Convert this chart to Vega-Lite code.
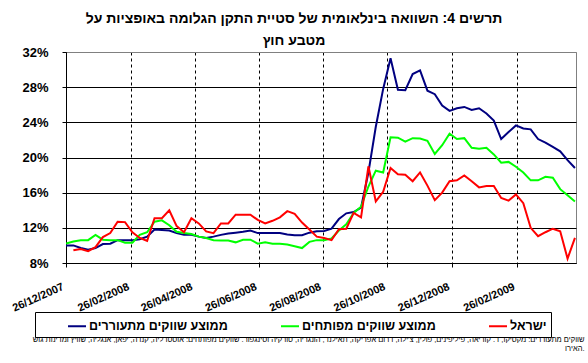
{
  "$schema": "https://vega.github.io/schema/vega-lite/v6.json",
  "width": 510,
  "height": 211,
  "autosize": {"type": "none"},
  "padding": {"left": 66, "top": 52, "right": 12, "bottom": 100},
  "background": "white",
  "title": {
    "text": ["תרשים 4: השוואה בינלאומית של סטיית התקן הגלומה באופציות על", "מטבע חוץ"],
    "font": "Liberation Sans",
    "fontSize": 14,
    "fontWeight": "bold",
    "color": "black",
    "anchor": "middle",
    "dx": -27,
    "dy": 6,
    "lineHeight": 22
  },
  "data": {
    "values": [
      {"date": "2007-12-26", "em": 10.0, "dev": 10.2, "isr": null},
      {"date": "2008-01-02", "em": 10.0, "dev": 10.45, "isr": 9.45},
      {"date": "2008-01-09", "em": 9.7, "dev": 10.6, "isr": 9.6},
      {"date": "2008-01-16", "em": 9.5, "dev": 10.6, "isr": 9.35},
      {"date": "2008-01-23", "em": 9.7, "dev": 11.2, "isr": 9.8},
      {"date": "2008-01-30", "em": 10.15, "dev": 10.65, "isr": 10.95},
      {"date": "2008-02-06", "em": 10.2, "dev": 10.6, "isr": 11.4},
      {"date": "2008-02-13", "em": 10.6, "dev": 10.6, "isr": 12.7},
      {"date": "2008-02-20", "em": 10.6, "dev": 10.3, "isr": 12.65},
      {"date": "2008-02-27", "em": 10.6, "dev": 10.3, "isr": 11.5},
      {"date": "2008-03-05", "em": 10.7, "dev": 11.2, "isr": 10.85},
      {"date": "2008-03-12", "em": 11.0, "dev": 11.5, "isr": 10.5},
      {"date": "2008-03-19", "em": 11.8, "dev": 12.7, "isr": 13.1},
      {"date": "2008-03-26", "em": 11.75, "dev": 12.85, "isr": 13.1},
      {"date": "2008-04-02", "em": 11.7, "dev": 12.3, "isr": 14.0},
      {"date": "2008-04-09", "em": 11.4, "dev": 11.55, "isr": 12.2},
      {"date": "2008-04-16", "em": 11.2, "dev": 11.4, "isr": 11.5},
      {"date": "2008-04-23", "em": 11.2, "dev": 11.3, "isr": 13.1},
      {"date": "2008-04-30", "em": 11.0, "dev": 11.0, "isr": 12.5},
      {"date": "2008-05-07", "em": 10.85, "dev": 10.85, "isr": 11.6},
      {"date": "2008-05-14", "em": 11.0, "dev": 10.6, "isr": 11.4},
      {"date": "2008-05-21", "em": 11.2, "dev": 10.55, "isr": 12.5},
      {"date": "2008-05-28", "em": 11.35, "dev": 10.55, "isr": 12.5},
      {"date": "2008-06-04", "em": 11.45, "dev": 10.35, "isr": 13.5},
      {"date": "2008-06-11", "em": 11.55, "dev": 10.65, "isr": 13.5},
      {"date": "2008-06-18", "em": 11.7, "dev": 10.65, "isr": 13.5},
      {"date": "2008-06-25", "em": 11.4, "dev": 10.2, "isr": 12.9},
      {"date": "2008-07-02", "em": 11.4, "dev": 10.35, "isr": 12.5},
      {"date": "2008-07-09", "em": 11.4, "dev": 10.2, "isr": 12.8},
      {"date": "2008-07-16", "em": 11.4, "dev": 10.2, "isr": 13.2},
      {"date": "2008-07-23", "em": 11.25, "dev": 10.1, "isr": 13.9},
      {"date": "2008-07-30", "em": 11.15, "dev": 9.9, "isr": 13.6},
      {"date": "2008-08-06", "em": 11.15, "dev": 9.7, "isr": 12.6},
      {"date": "2008-08-13", "em": 11.45, "dev": 10.4, "isr": 11.8},
      {"date": "2008-08-20", "em": 11.6, "dev": 10.6, "isr": 11.0},
      {"date": "2008-08-27", "em": 11.65, "dev": 10.6, "isr": 10.85},
      {"date": "2008-09-03", "em": 11.9, "dev": 10.8, "isr": 10.6},
      {"date": "2008-09-10", "em": 13.0, "dev": 11.7, "isr": 11.85},
      {"date": "2008-09-17", "em": 13.65, "dev": 12.4, "isr": 11.9},
      {"date": "2008-09-24", "em": 13.8, "dev": 13.7, "isr": 13.7},
      {"date": "2008-10-01", "em": 14.3, "dev": 14.4, "isr": 13.2},
      {"date": "2008-10-08", "em": 18.3, "dev": 16.7, "isr": 19.0},
      {"date": "2008-10-15", "em": 23.5, "dev": 18.5, "isr": 15.0},
      {"date": "2008-10-22", "em": 27.8, "dev": 18.3, "isr": 16.1},
      {"date": "2008-10-29", "em": 31.3, "dev": 22.3, "isr": 18.8},
      {"date": "2008-11-05", "em": 27.7, "dev": 22.25, "isr": 18.1},
      {"date": "2008-11-12", "em": 27.65, "dev": 21.8, "isr": 18.05},
      {"date": "2008-11-19", "em": 29.5, "dev": 22.2, "isr": 17.3},
      {"date": "2008-11-26", "em": 29.9, "dev": 22.15, "isr": 18.3},
      {"date": "2008-12-03", "em": 27.6, "dev": 21.9, "isr": 16.8},
      {"date": "2008-12-10", "em": 27.2, "dev": 20.4, "isr": 15.15},
      {"date": "2008-12-17", "em": 25.9, "dev": 21.4, "isr": 16.0},
      {"date": "2008-12-24", "em": 25.3, "dev": 22.7, "isr": 17.3},
      {"date": "2008-12-31", "em": 25.6, "dev": 22.1, "isr": 17.4},
      {"date": "2009-01-07", "em": 25.75, "dev": 22.2, "isr": 17.95},
      {"date": "2009-01-14", "em": 25.4, "dev": 21.1, "isr": 17.3},
      {"date": "2009-01-21", "em": 25.6, "dev": 21.0, "isr": 16.6},
      {"date": "2009-01-28", "em": 25.0, "dev": 21.1, "isr": 16.75},
      {"date": "2009-02-04", "em": 24.2, "dev": 20.35, "isr": 16.75},
      {"date": "2009-02-11", "em": 22.1, "dev": 19.4, "isr": 15.4},
      {"date": "2009-02-18", "em": 22.9, "dev": 19.5, "isr": 15.1},
      {"date": "2009-02-25", "em": 23.65, "dev": 18.95, "isr": 15.8},
      {"date": "2009-03-04", "em": 23.3, "dev": 18.3, "isr": 14.8},
      {"date": "2009-03-11", "em": 23.2, "dev": 17.4, "isr": 12.0},
      {"date": "2009-03-18", "em": 22.1, "dev": 17.4, "isr": 11.05},
      {"date": "2009-03-25", "em": 21.7, "dev": 17.8, "isr": 11.5},
      {"date": "2009-04-01", "em": 21.2, "dev": 17.7, "isr": 11.9},
      {"date": "2009-04-08", "em": 20.7, "dev": 16.4, "isr": 11.6},
      {"date": "2009-04-15", "em": 19.7, "dev": 15.7, "isr": 8.5},
      {"date": "2009-04-22", "em": 18.8, "dev": 15.0, "isr": 10.85}
    ]
  },
  "transform": [
    {"fold": ["em", "dev", "isr"], "as": ["series", "value"]}
  ],
  "mark": {"type": "line", "strokeWidth": 2, "clip": true},
  "encoding": {
    "x": {
      "field": "date",
      "type": "temporal",
      "scale": {
        "type": "utc",
        "domain": [
          {"year": 2007, "month": 12, "date": 26, "utc": true},
          {"year": 2009, "month": 4, "date": 23, "utc": true}
        ]
      },
      "axis": {
        "values": [
          {"year": 2007, "month": 12, "date": 26, "utc": true},
          {"year": 2008, "month": 2, "date": 26, "utc": true},
          {"year": 2008, "month": 4, "date": 26, "utc": true},
          {"year": 2008, "month": 6, "date": 26, "utc": true},
          {"year": 2008, "month": 8, "date": 26, "utc": true},
          {"year": 2008, "month": 10, "date": 26, "utc": true},
          {"year": 2008, "month": 12, "date": 26, "utc": true},
          {"year": 2009, "month": 2, "date": 26, "utc": true}
        ],
        "format": "%d/%m/%Y",
        "labelAngle": -24,
        "labelAlign": "right",
        "labelBaseline": "middle",
        "labelPadding": 19,
        "labelOffset": -3,
        "labelFont": "Liberation Sans",
        "labelFontSize": 11,
        "labelFontWeight": "bold",
        "labelColor": "black",
        "labelOverlap": false,
        "labelFlush": false,
        "labelBound": false,
        "tickSize": 4,
        "tickColor": "black",
        "domainColor": "black",
        "grid": true,
        "gridColor": "black",
        "gridDash": [3, 3],
        "gridWidth": 1,
        "title": [
          "שווקים מתעוררים: מקסיקו, ד. קוריאה, פיליפינים, פולין, צ'ילה, דרום אפריקה, תאילנד, הונגריה, טורקיה וסינגפור. שווקים מפותחים: אוסטרליה, קנדה, יפאן, אנגליה, שוויץ ומדינות גוש",
          "האירו."
        ],
        "titleFont": "Liberation Sans",
        "titleFontSize": 7.5,
        "titleFontWeight": "normal",
        "titleColor": "black",
        "titleAnchor": "end",
        "titleAlign": "right",
        "titleBaseline": "alphabetic",
        "titleX": 518,
        "titleY": 78,
        "titleLineHeight": 9
      }
    },
    "y": {
      "field": "value",
      "type": "quantitative",
      "scale": {"domain": [8, 32], "nice": false, "zero": false},
      "axis": {
        "values": [8, 12, 16, 20, 24, 28, 32],
        "labelExpr": "datum.value + '%'",
        "labelFont": "Liberation Sans",
        "labelFontSize": 13,
        "labelFontWeight": "bold",
        "labelColor": "black",
        "labelPadding": 14,
        "tickSize": 4,
        "tickColor": "black",
        "domainColor": "black",
        "grid": true,
        "gridColor": {"condition": {"test": "datum.value === 32", "value": "#808080"}, "value": "black"},
        "gridWidth": 1,
        "title": null
      }
    },
    "color": {
      "field": "series",
      "type": "nominal",
      "scale": {"domain": ["em", "dev", "isr"], "range": ["#000080", "#00FF00", "#FF0000"]},
      "legend": {
        "orient": "none",
        "legendX": -31,
        "legendY": 260,
        "direction": "horizontal",
        "columns": 3,
        "title": null,
        "symbolType": "stroke",
        "symbolSize": 324,
        "symbolStrokeWidth": 2,
        "symbolOffset": 28,
        "labelOffset": 2,
        "columnPadding": 24,
        "labelFont": "Liberation Sans",
        "labelFontSize": 12.5,
        "labelFontWeight": "bold",
        "labelColor": "black",
        "labelLimit": 400,
        "labelExpr": "datum.value === 'em' ? 'ממוצע שווקים מתעוררים' : datum.value === 'dev' ? 'ממוצע שווקים מפותחים' : 'ישראל\u00a0\u00a0\u00a0\u00a0\u00a0\u00a0'",
        "strokeColor": "black",
        "fillColor": "white",
        "padding": 4
      }
    }
  },
  "config": {
    "view": {"stroke": "#808080", "strokeWidth": 1},
    "font": "Liberation Sans"
  }
}
